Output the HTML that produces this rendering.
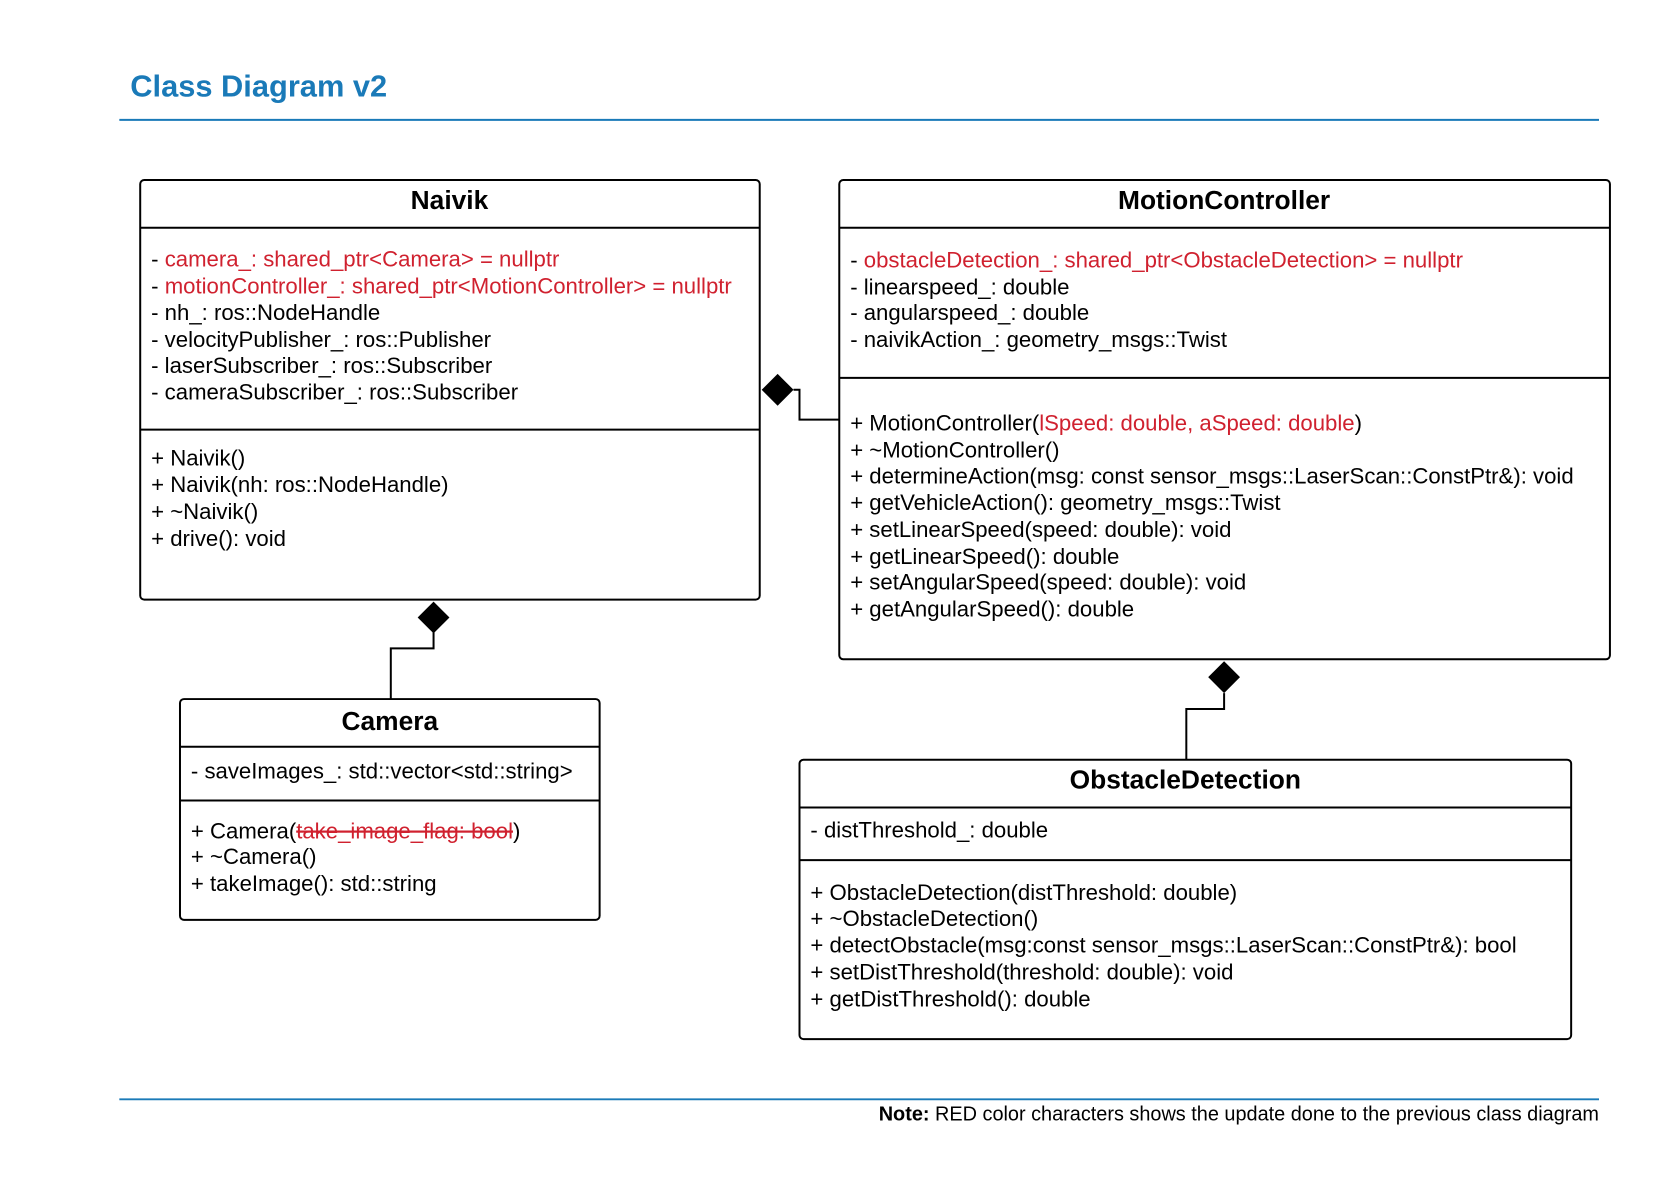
<!DOCTYPE html>
<html><head><meta charset="utf-8"><style>
html,body{margin:0;padding:0;background:#fff;}
svg{display:block;}
text{font-family:"Liberation Sans",Arial,sans-serif;}
.t{font-size:22.3px;fill:#000;}
.r{fill:#d0212f;}
.h{font-size:26.5px;font-weight:bold;text-anchor:middle;}
</style></head><body>
<svg width="1660" height="1195" viewBox="0 0 1660 1195" xmlns="http://www.w3.org/2000/svg">
<rect width="1660" height="1195" fill="#fff"/>
<g transform="scale(0.9944)">
<text x="131" y="97" style="font-size:31px;font-weight:bold;fill:#1a7ab8">Class Diagram v2</text>
<line x1="120" y1="120.5" x2="1608" y2="120.5" stroke="#1a7ab8" stroke-width="2"/>

<g fill="none" stroke="#000" stroke-width="2">
<rect x="141" y="181" width="623" height="422" rx="4"/>
<line x1="141" y1="229" x2="764" y2="229"/>
<line x1="141" y1="432" x2="764" y2="432"/>
<rect x="844" y="181" width="775" height="482" rx="4"/>
<line x1="844" y1="229" x2="1619" y2="229"/>
<line x1="844" y1="380" x2="1619" y2="380"/>
<rect x="181" y="703" width="422" height="222" rx="4"/>
<line x1="181" y1="751" x2="603" y2="751"/>
<line x1="181" y1="805" x2="603" y2="805"/>
<rect x="804" y="764" width="776" height="281" rx="4"/>
<line x1="804" y1="812" x2="1580" y2="812"/>
<line x1="804" y1="865" x2="1580" y2="865"/>
<path d="M798 392 H804 V422 H844"/>
<path d="M436 636 V652 H393 V703"/>
<path d="M1231 697 V713 H1193 V764"/>
</g>
<g fill="#000">
<polygon points="766,392 782,376 798,392 782,408"/>
<polygon points="436,605 452,621 436,637 420,621"/>
<polygon points="1231,665 1247,681 1231,697 1215,681"/>
</g>

<text class="h" x="452" y="210">Naivik</text>
<g class="t">
<text x="152" y="268">- <tspan class="r">camera_: shared_ptr&lt;Camera&gt; = nullptr</tspan></text>
<text x="152" y="295">- <tspan class="r">motionController_: shared_ptr&lt;MotionController&gt; = nullptr</tspan></text>
<text x="152" y="322">- nh_: ros::NodeHandle</text>
<text x="152" y="349">- velocityPublisher_: ros::Publisher</text>
<text x="152" y="375">- laserSubscriber_: ros::Subscriber</text>
<text x="152" y="402">- cameraSubscriber_: ros::Subscriber</text>
<text x="152" y="468">+ Naivik()</text>
<text x="152" y="495">+ Naivik(nh: ros::NodeHandle)</text>
<text x="152" y="522">+ ~Naivik()</text>
<text x="152" y="549">+ drive(): void</text>
</g>

<text class="h" x="1231" y="210">MotionController</text>
<g class="t">
<text x="855" y="269">- <tspan class="r">obstacleDetection_: shared_ptr&lt;ObstacleDetection&gt; = nullptr</tspan></text>
<text x="855" y="296">- linearspeed_: double</text>
<text x="855" y="322">- angularspeed_: double</text>
<text x="855" y="349">- naivikAction_: geometry_msgs::Twist</text>
<text x="855" y="433">+ MotionController(<tspan class="r">lSpeed: double, aSpeed: double</tspan>)</text>
<text x="855" y="460">+ ~MotionController()</text>
<text x="855" y="486">+ determineAction(msg: const sensor_msgs::LaserScan::ConstPtr&amp;): void</text>
<text x="855" y="513">+ getVehicleAction(): geometry_msgs::Twist</text>
<text x="855" y="540">+ setLinearSpeed(speed: double): void</text>
<text x="855" y="567">+ getLinearSpeed(): double</text>
<text x="855" y="593">+ setAngularSpeed(speed: double): void</text>
<text x="855" y="620">+ getAngularSpeed(): double</text>
</g>

<text class="h" x="392" y="734">Camera</text>
<g class="t">
<text x="192" y="783">- saveImages_: std::vector&lt;std::string&gt;</text>
<text x="192" y="843">+ Camera(<tspan class="r" text-decoration="line-through">take_image_flag: bool</tspan>)</text>
<text x="192" y="869">+ ~Camera()</text>
<text x="192" y="896">+ takeImage(): std::string</text>
</g>

<text class="h" x="1192" y="793">ObstacleDetection</text>
<g class="t">
<text x="815" y="842">- distThreshold_: double</text>
<text x="815" y="905">+ ObstacleDetection(distThreshold: double)</text>
<text x="815" y="931">+ ~ObstacleDetection()</text>
<text x="815" y="958">+ detectObstacle(msg:const sensor_msgs::LaserScan::ConstPtr&amp;): bool</text>
<text x="815" y="985">+ setDistThreshold(threshold: double): void</text>
<text x="815" y="1012">+ getDistThreshold(): double</text>
</g>

<line x1="120" y1="1105.5" x2="1608" y2="1105.5" stroke="#1a7ab8" stroke-width="2"/>
<text x="1608" y="1127" text-anchor="end" style="font-size:20px;fill:#000"><tspan font-weight="bold">Note:</tspan> RED color characters shows the update done to the previous class diagram</text>
</g>
</svg>
</body></html>
